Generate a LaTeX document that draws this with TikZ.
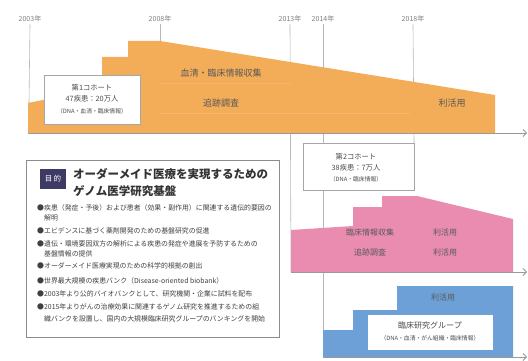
\documentclass[tikz,border=0pt]{standalone}
\usepackage{fontspec}
\setmainfont{Noto Sans CJK JP}
\usetikzlibrary{arrows.meta}
\definecolor{org}{HTML}{F3AC58}
\definecolor{orgl}{HTML}{F5B76F}
\definecolor{pnk}{HTML}{EA8CAF}
\definecolor{blu}{HTML}{6CA0D6}
\definecolor{navy}{HTML}{3E3A66}
\definecolor{gline}{HTML}{B8B8B8}
\begin{document}
\begin{tikzpicture}[x=1pt,y=-1pt,
  yr/.style={font=\fontsize{7}{8}\selectfont, text=black!50, inner sep=0},
  vline/.style={draw=gline, line width=0.6pt},
  axis/.style={draw=black!40, line width=0.8pt, -{Straight Barb[length=3.5pt,width=7pt]}},
  lbl/.style={font=\fontsize{9}{10}\selectfont, text=black!65, inner sep=0},
  plbl/.style={font=\fontsize{8}{9}\selectfont, text=black!65, inner sep=0},
  cbox/.style={draw=black!35, fill=white, line width=0.6pt, inner sep=0},
  ctxt/.style={font=\fontsize{7.3}{8}\selectfont, text=black!70, inner sep=0},
  csub/.style={font=\fontsize{5.8}{7}\selectfont, text=black!70, inner sep=0},
  blt/.style={anchor=west, font=\fontsize{6.9}{8}\selectfont, text=black!75, inner sep=0},
]
\useasboundingbox (0,0) rectangle (528,361);
\fill[white] (0,0) rectangle (528,361);

% year labels and guide lines
\node[yr] (y03) at (30,19) {2003年};
\node[yr] (y08) at (160,19) {2008年};
\node[yr] (y13) at (290,19) {2013年};
\node[yr] (y14) at (323,19) {2014年};
\node[yr] (y18) at (413,19) {2018年};
\coordinate (e03) at (29,103);
\coordinate (e08) at (160,41);
\coordinate (e13) at (291,272);
\coordinate (e14) at (323,357);
\coordinate (e18) at (414,143);
\draw[vline] ([yshift=-2pt]y03.south) -- (e03);
\draw[vline] ([yshift=-2pt]y08.south) -- (e08);
\draw[vline] ([yshift=-2pt]y13.south) -- (e13);
\draw[vline] ([yshift=-2pt]y14.south) -- (e14);
\draw[vline] ([yshift=-2pt]y18.south) -- (e18);

% first cohort (orange)
\fill[org] (28,133) -- (28,103) -- (102,88) -- (102,57) -- (128,57) -- (128,41)
  -- (160,41) -- (495,95) -- (495,133) -- cycle;
\draw[orgl, line width=0.6pt] (160,83) -- (290,83);
\draw[orgl, line width=0.6pt] (160,113) -- (410,113);
\node[lbl] (o1) at (221,73) {血清・臨床情報収集};
\node[lbl] (o2) at (221,103) {追跡調査};
\node[lbl] (o3) at (452,103) {利活用};

\node[cbox, minimum width=96pt, minimum height=49pt, anchor=north west] (c1) at (44,75) {};
\node[ctxt] (c1a) at (92,88) {第1コホート};
\node[ctxt] (c1b) at (92,99) {47疾患：20万人};
\node[csub] (c1c) at (92,111) {（DNA・血清・臨床情報）};

% second cohort box
\node[cbox, minimum width=111pt, minimum height=47pt, anchor=north west] (c2) at (303,143) {};
\node[ctxt] (c2a) at (356,157) {第2コホート};
\node[ctxt] (c2b) at (356,168) {38疾患：7万人};
\node[csub] (c2c) at (356,179) {（DNA・臨床情報）};

% pink
\fill[pnk] (291,272) -- (291,230) -- (353,226) -- (353,207) -- (382,207) -- (382,196)
  -- (417,196) -- (513,219) -- (513,272) -- cycle;
\node[plbl] (p1) at (370,232) {臨床情報収集};
\node[plbl] (p2) at (445,232) {利活用};
\node[plbl] (p3) at (370,252) {追跡調査};
\node[plbl] (p4) at (445,252) {利活用};

% blue
\fill[blu] (323,357) -- (323,330) -- (353,330) -- (353,310) -- (397,310) -- (397,286)
  -- (513,286) -- (513,357) -- cycle;
\node[plbl] (b1) at (443,297) {利活用};
\node[cbox, draw=none, minimum width=125pt, minimum height=35pt, anchor=north west] (cg) at (368,315) {};
\node[ctxt, font=\fontsize{8}{9}\selectfont] (cga) at (430,325) {臨床研究グループ};
\node[csub] (cgb) at (430,338) {（DNA・血清・がん組織・臨床情報）};

% axes
\coordinate (a1s) at (28,133);  \coordinate (a1e) at (527,133);
\coordinate (a2s) at (291,272); \coordinate (a2e) at (527,272);
\coordinate (a3s) at (323,357); \coordinate (a3e) at (527,357);
\draw[axis] (a1s) -- (a1e);
\draw[axis] (a2s) -- (a2e);
\draw[axis] (a3s) -- (a3e);

% goal box
\node[cbox, draw=black!45, line width=0.8pt, minimum width=253pt, minimum height=177pt, anchor=north west] (goal) at (26,160) {};
\node[fill=navy, text=white, minimum width=26pt, minimum height=20pt, inner sep=0,
  font=\fontsize{7.5}{8}\selectfont] (tag) at (53,179) {目\,的};
\node[anchor=west, inner sep=0, text=black!80, font=\fontsize{11.5}{13}\selectfont\bfseries] (t1) at (73,174) {オーダーメイド医療を実現するための};
\node[anchor=west, inner sep=0, text=black!80, font=\fontsize{11.5}{13}\selectfont\bfseries] (t2) at (73,191) {ゲノム医学研究基盤};

\node[blt] (l1) at (37,208) {●疾患（発症・予後）および患者（効果・副作用）に関連する遺伝的要因の};
\node[blt] (l1b) at (44,218) {解明};
\node[blt] (l2) at (37,231) {●エビデンスに基づく薬剤開発のための基盤研究の促進};
\node[blt] (l3) at (37,244) {●遺伝・環境要因双方の解析による疾患の発症や進展を予防するための};
\node[blt] (l3b) at (44,254) {基盤情報の提供};
\node[blt] (l4) at (37,266) {●オーダーメイド医療実現のための科学的根拠の創出};
\node[blt] (l5) at (37,281) {●世界最大規模の疾患バンク（Disease-oriented biobank）};
\node[blt] (l6) at (37,294) {●2003年より公的バイオバンクとして、研究機関・企業に試料を配布};
\node[blt] (l7) at (37,307) {●2015年よりがんの治療効果に関連するゲノム研究を推進するための組};
\node[blt] (l7b) at (44,319) {織バンクを設置し、国内の大規模臨床研究グループのバンキングを開始};
\end{tikzpicture}
\end{document}
